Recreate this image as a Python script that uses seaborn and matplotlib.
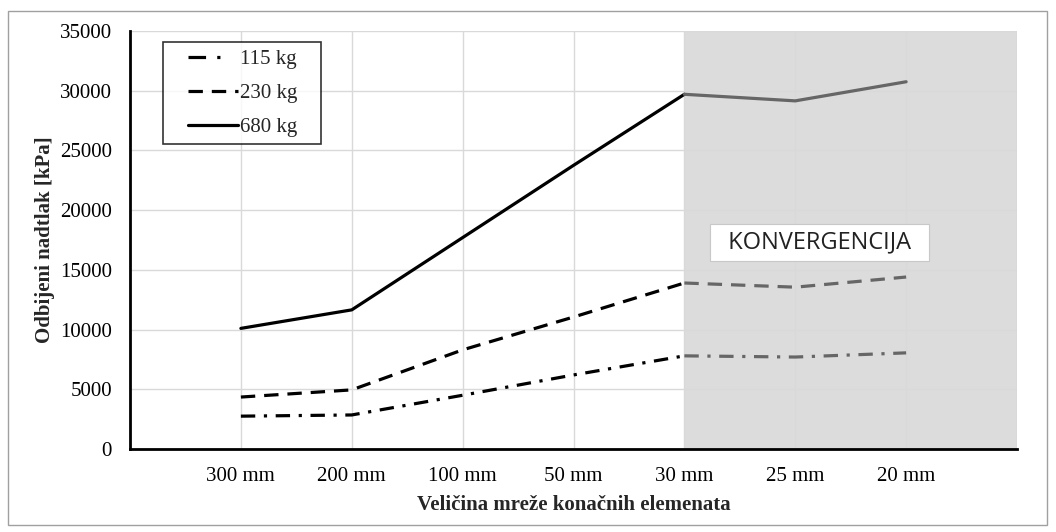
import numpy as np
import pandas as pd
import seaborn as sns
import matplotlib.pyplot as plt
from matplotlib.lines import Line2D
from matplotlib.legend_handler import HandlerLine2D
from matplotlib.patches import Rectangle

# mesh sizes (x categories)
mesh = ['300 mm', '200 mm', '100 mm', '50 mm', '30 mm', '25 mm', '20 mm']
# reflected overpressure [kPa]
p_115 = [2750, 2850, 4500, 6200, 7800, 7700, 8050]
p_230 = [4350, 4950, 8300, 11050, 13900, 13550, 14400]
p_680 = [10100, 11650, 17700, 23750, 29700, 29150, 30750]
series = ['115 kg', '230 kg', '680 kg']
conv_start = 4  # index of '30 mm', start of convergence zone

sns.set_style('white')
plt.rcParams['font.family'] = ['Liberation Serif', 'DejaVu Serif']

fig = plt.figure(figsize=(10.56, 5.32), dpi=100)
ax = fig.add_axes([130 / 1056, 83 / 532, 887 / 1056, 418 / 532])

x = np.arange(len(mesh))
ax.axvspan(conv_start, len(mesh), color='#dcdcdc', zorder=0, lw=0)

styles = {
    '115 kg': (0, (4.5, 2.7, 1, 2.7)),
    '230 kg': (0, (4.5, 2.8)),
    '680 kg': '-',
}
values = {'115 kg': p_115, '230 kg': p_230, '680 kg': p_680}

for name in series:
    df = pd.DataFrame({'x': x, 'y': values[name]})
    a = df.iloc[:conv_start + 1]
    b = df.iloc[conv_start:]
    sns.lineplot(data=a, x='x', y='y', ax=ax, color='black', lw=2.3,
                 linestyle=styles[name], zorder=3)
    sns.lineplot(data=b, x='x', y='y', ax=ax, color='#666666', lw=2.3,
                 linestyle=styles[name], zorder=3)

ax.set_xlim(-1, len(mesh))
ax.set_ylim(0, 35000)
ax.set_yticks(np.arange(0, 35001, 5000))
ax.set_xticks(x)
ax.set_xticklabels(mesh)
ax.grid(True, color='#d9d9d9', lw=1)
ax.axvline(len(mesh), color='#cfcfcf', lw=1, zorder=1)
ax.set_axisbelow(True)

for s in ['top', 'right']:
    ax.spines[s].set_visible(False)
for s in ['left', 'bottom']:
    ax.spines[s].set_color('black')
    ax.spines[s].set_linewidth(2)
ax.tick_params(axis='both', direction='in', length=5, width=2, colors='black',
               labelsize=15)
ax.tick_params(axis='x', pad=13)
ax.tick_params(axis='y', pad=13)

ax.set_xlabel('Veličina mreže konačnih elemenata', fontsize=15,
              fontweight='bold', labelpad=6.5)
ax.set_ylabel('Odbijeni nadtlak [kPa]', fontsize=15, fontweight='bold',
              labelpad=3.5)

# legend handles: same styles, dash-dot shortened so it shows one dash + dot
leg_styles = dict(styles)
leg_styles['115 kg'] = (0, (5.5, 3.5, 1, 20))
handles = [Line2D([], [], color='black', lw=2.3, linestyle=leg_styles[n]) for n in series]
leg = ax.legend(handles, series, loc='upper left',
                bbox_to_anchor=(0.0372, 0.5, 0.178, 0.4737), mode='expand',
                fontsize=15, handlelength=3.27, handletextpad=0.1,
                handler_map={Line2D: HandlerLine2D(xpad=0.87)},
                frameon=True, fancybox=False, borderpad=0.35, labelspacing=0.7,
                borderaxespad=0)
leg.get_frame().set_edgecolor('black')
leg.get_frame().set_linewidth(1.2)

ax.text(5.22, 17300, '  KONVERGENCIJA  ', family=['Open Sans', 'DejaVu Sans'],
        fontsize=17, ha='center', va='center', zorder=5, color='#222222',
        bbox=dict(boxstyle='square,pad=0.26', fc='white', ec='#c8c8c8', lw=0.8))

fig.patches.append(Rectangle((8 / 1056, 7 / 532), 1039 / 1056, 514 / 532,
                             transform=fig.transFigure, fill=False,
                             ec='#a0a0a0', lw=1))

fig.savefig('out.png', dpi=100)
